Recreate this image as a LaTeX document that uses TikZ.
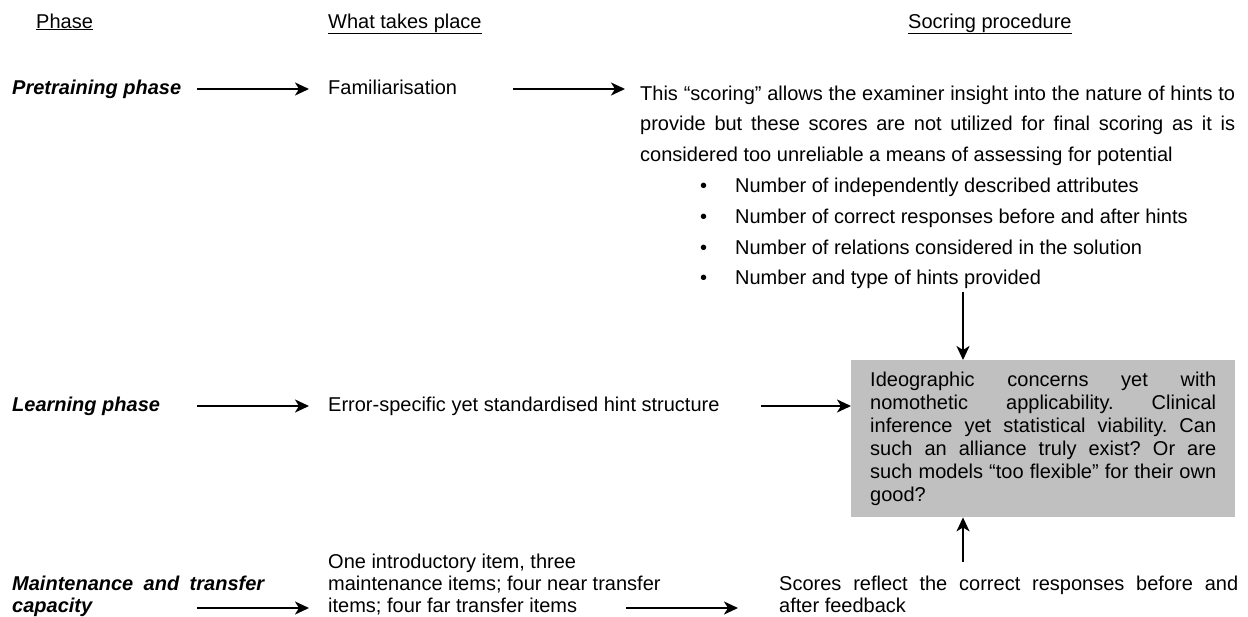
\documentclass[tikz,border=0pt]{standalone}
\usepackage{fontspec}
\setmainfont{Liberation Sans}
\usetikzlibrary{arrows.meta}
\definecolor{boxgray}{RGB}{192,192,192}
\hyphenpenalty=10000
\exhyphenpenalty=10000
\tolerance=10000
\frenchspacing

\tikzset{
  flow/.style={line width=2pt,-{Stealth[length=14pt,width=13pt,inset=4pt]}},
  txt/.style={inner sep=0pt,anchor=base west,font=\fontsize{20}{23}\selectfont},
  phasetxt/.style={txt,font=\fontsize{20}{22}\selectfont\bfseries\itshape},
  para/.style={inner sep=0pt,anchor=north west,align=justify},
}

\begin{document}
\begin{tikzpicture}[x=1pt,y=-1pt]
\useasboundingbox (0,0) rectangle (1248,616);

% column headings
\node[txt] (hphase) at (36,28) {\underline{Phase}};
\node[txt] (hwhat) at (328,28) {\underline{What takes place}};
\node[txt] (hscore) at (908,28) {\underline{Socring procedure}};

% rows and columns for the arrows
\coordinate (r1) at (0,89);
\coordinate (r2) at (0,406);
\coordinate (r3) at (0,608);
\coordinate (c1) at (197,0);
\coordinate (c2) at (309,0);
\coordinate (c3) at (513,0);
\coordinate (c4) at (625,0);
\coordinate (c5) at (761,0);
\coordinate (c6) at (626,0);
\coordinate (c7) at (738,0);

% pretraining
\node[phasetxt] (pre) at (12,94) {Pretraining phase};
\node[txt] (fam) at (328,94) {Familiarisation};
\node[para,text width=595pt,font=\fontsize{20}{30.8}\selectfont] (scoring) at (640,85.4) {%
This “scoring” allows the examiner insight into the nature of hints to\linebreak
provide but these scores are not utilized for final scoring as it is\linebreak
considered too unreliable a means of assessing for potential\par
\hspace*{60pt}\makebox[35pt][l]{•}Number of independently described attributes\par
\hspace*{60pt}\makebox[35pt][l]{•}Number of correct responses before and after hints\par
\hspace*{60pt}\makebox[35pt][l]{•}Number of relations considered in the solution\par
\hspace*{60pt}\makebox[35pt][l]{•}Number and type of hints provided};

% learning
\node[phasetxt] (learn) at (12,411) {Learning phase};
\node[txt] (hint) at (328,411) {Error-specific yet standardised hint structure};
\node[para,fill=boxgray,inner xsep=19pt,text width=346pt,minimum height=157pt,
  font=\fontsize{20}{23}\selectfont] (concern) at (851,360) {%
Ideographic concerns yet with\linebreak
nomothetic applicability. Clinical\linebreak
inference yet statistical viability. Can\linebreak
such an alliance truly exist? Or are\linebreak
such models “too flexible” for their own\linebreak
good?};

% maintenance
\node[para,text width=252pt,font=\fontsize{20}{22}\selectfont\bfseries\itshape] (maint) at (12,575.4) {%
Maintenance and transfer\linebreak capacity};
\node[para,align=left,font=\fontsize{20}{22}\selectfont] (items) at (328,553.4) {%
One introductory item, three\\
maintenance items; four near transfer\\
items; four far transfer items};
\node[para,text width=459pt,font=\fontsize{20}{22}\selectfont] (scores) at (779,575.4) {%
Scores reflect the correct responses before and\linebreak
after feedback};

% arrows
\coordinate (vdown) at (963,292);
\coordinate (vup) at (963,562);
\draw[flow] (r1 -| c1) -- (r1 -| c2);
\draw[flow] (r1 -| c3) -- (r1 -| c4);
\draw[flow] (r2 -| c1) -- (r2 -| c2);
\draw[flow] (r2 -| c5) -- (r2 -| concern.west);
\draw[flow] (r3 -| c1) -- (r3 -| c2);
\draw[flow] (r3 -| c6) -- (r3 -| c7);
\draw[flow] (vdown) -- (vdown |- concern.north);
\draw[flow] (vup) -- (vup |- concern.south);
\end{tikzpicture}
\end{document}
